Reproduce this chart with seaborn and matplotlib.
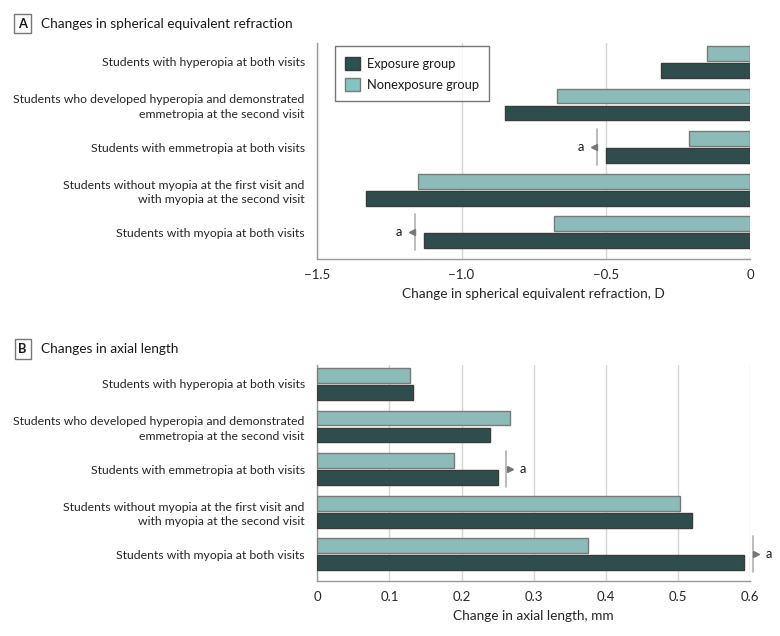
import matplotlib
matplotlib.use('Agg')
import matplotlib.pyplot as plt
from matplotlib import font_manager
from matplotlib.patches import Patch
import seaborn as sns
import pandas as pd

# Data
categories = [
    'Students with hyperopia at both visits',
    'Students who developed hyperopia and demonstrated\nemmetropia at the second visit',
    'Students with emmetropia at both visits',
    'Students without myopia at the first visit and\nwith myopia at the second visit',
    'Students with myopia at both visits',
]
groups = ['Exposure group', 'Nonexposure group']

# Panel A: change in spherical equivalent refraction, D
ser_exposure = [-0.31, -0.85, -0.50, -1.33, -1.13]
ser_nonexposure = [-0.15, -0.67, -0.21, -1.15, -0.68]
ser_sig_rows = [2, 4]
ser_sig_x = [-0.53, -1.16]

# Panel B: change in axial length, mm
al_exposure = [0.133, 0.240, 0.250, 0.520, 0.592]
al_nonexposure = [0.128, 0.267, 0.189, 0.503, 0.375]
al_sig_rows = [2, 4]
al_sig_x = [0.262, 0.604]

ser_ticks = [-1.5, -1.0, -0.5, 0]
ser_ticklabels = ['\u22121.5', '\u22121.0', '\u22120.5', '0']
al_ticks = [0, 0.1, 0.2, 0.3, 0.4, 0.5, 0.6]
al_ticklabels = ['0', '0.1', '0.2', '0.3', '0.4', '0.5', '0.6']

DARK = '#2a5250'
LIGHT = '#84c3c0'
GRID = '#d6d6d6'
SPINE = '#9a9a9a'

sns.set_theme(style='white')

# prefer a narrow sans if one is installed, else Lato a bit smaller
try:
    font_manager.findfont('Liberation Sans Narrow', fallback_to_default=False)
    FAMILY = 'Liberation Sans Narrow'
    FS = 10.5
except Exception:
    FAMILY = 'Lato'
    FS = 8.8
plt.rcParams['font.family'] = [FAMILY, 'DejaVu Sans']
plt.rcParams['text.color'] = '#1a1a1a'


def long_frame(exposure, nonexposure):
    df = pd.DataFrame({
        'category': categories * 2,
        'group': [groups[0]] * len(categories) + [groups[1]] * len(categories),
        'value': list(exposure) + list(nonexposure),
    })
    return df


def draw_panel(ax, exposure, nonexposure, xlim, ticks, ticklabels, xlabel,
               sig_rows, sig_x, side):
    df = long_frame(exposure, nonexposure)
    sns.barplot(data=df, y='category', x='value', hue='group',
                order=categories, hue_order=[groups[1], groups[0]],
                palette=[LIGHT, DARK], orient='h', width=0.8, gap=0.125,
                errorbar=None, legend=False, linewidth=1, ax=ax, zorder=3)
    for p in ax.patches:
        fc = p.get_facecolor()
        p.set_edgecolor('#3a3a3a' if fc[0] < 0.3 else '#7a7a7a')
        p.set_linewidth(1)

    ax.set_xlim(*xlim)
    ax.set_ylim(4.63, -0.445)
    ax.set_xticks(ticks)
    ax.set_xticklabels(ticklabels, fontsize=FS + 0.7)
    for t in ticks:
        ax.axvline(t, color=GRID, lw=1, zorder=0)
    ax.set_xlabel(xlabel, fontsize=FS + 1.0, labelpad=5)
    ax.set_ylabel('')
    ax.tick_params(axis='y', length=0, labelsize=FS, pad=9)
    for lbl in ax.get_yticklabels():
        lbl.set_linespacing(1.4)
    ax.tick_params(axis='x', direction='out', length=4, color=SPINE, width=1, pad=3)
    for s in ['top', 'right']:
        ax.spines[s].set_visible(False)
    for s in ['left', 'bottom']:
        ax.spines[s].set_color(SPINE)
        ax.spines[s].set_linewidth(1)

    # significance markers
    span = xlim[1] - xlim[0]
    for row, xv in zip(sig_rows, sig_x):
        ax.plot([xv, xv], [row - 0.42, row + 0.42], color='#b0b0b0', lw=1.2,
                zorder=4, clip_on=False)
        if side == 'left':
            ax.plot(xv - span * 0.008, row, marker='<', ms=4, color='#777777',
                    zorder=4, clip_on=False)
            ax.text(xv - span * 0.03, row, 'a', ha='right', va='center',
                    fontsize=FS + 0.5)
        else:
            ax.plot(xv + span * 0.008, row, marker='>', ms=4, color='#777777',
                    zorder=4, clip_on=False)
            ax.text(xv + span * 0.03, row, 'a', ha='left', va='center',
                    fontsize=FS + 0.5)


fig = plt.figure(figsize=(7.8, 6.36), dpi=100)
ax_a = fig.add_axes([0.4068, 0.5928, 0.5547, 0.3396])
ax_b = fig.add_axes([0.4068, 0.0865, 0.5547, 0.3396])

draw_panel(ax_a, ser_exposure, ser_nonexposure, (-1.5, 0), ser_ticks,
           ser_ticklabels, 'Change in spherical equivalent refraction, D',
           ser_sig_rows, ser_sig_x, 'left')
draw_panel(ax_b, al_exposure, al_nonexposure, (0, 0.6), al_ticks,
           al_ticklabels, 'Change in axial length, mm',
           al_sig_rows, al_sig_x, 'right')

handles = [Patch(facecolor=DARK, edgecolor='#3a3a3a', label=groups[0]),
           Patch(facecolor=LIGHT, edgecolor='#7a7a7a', label=groups[1])]
leg = ax_a.legend(handles=handles, loc='upper left', bbox_to_anchor=(0.04, 0.985),
                  fontsize=FS + 0.5, frameon=True, fancybox=False, handlelength=1.2,
                  handleheight=1.2, borderpad=0.8, labelspacing=0.6,
                  handletextpad=0.5, borderaxespad=0)
leg.get_frame().set_edgecolor('#555555')
leg.get_frame().set_linewidth(1)
leg.set_zorder(5)

# panel titles
for y, letter, title in [(0.963, 'A', 'Changes in spherical equivalent refraction'),
                         (0.451, 'B', 'Changes in axial length')]:
    fig.text(0.029, y, letter, fontsize=FS + 0.5, fontweight='bold', ha='center',
             va='center', bbox=dict(boxstyle='square,pad=0.3', fc='white',
                                    ec='#777777', lw=1))
    fig.text(0.052, y, title, fontsize=FS + 1.0, ha='left', va='center')

fig.savefig('out.png', dpi=100)
